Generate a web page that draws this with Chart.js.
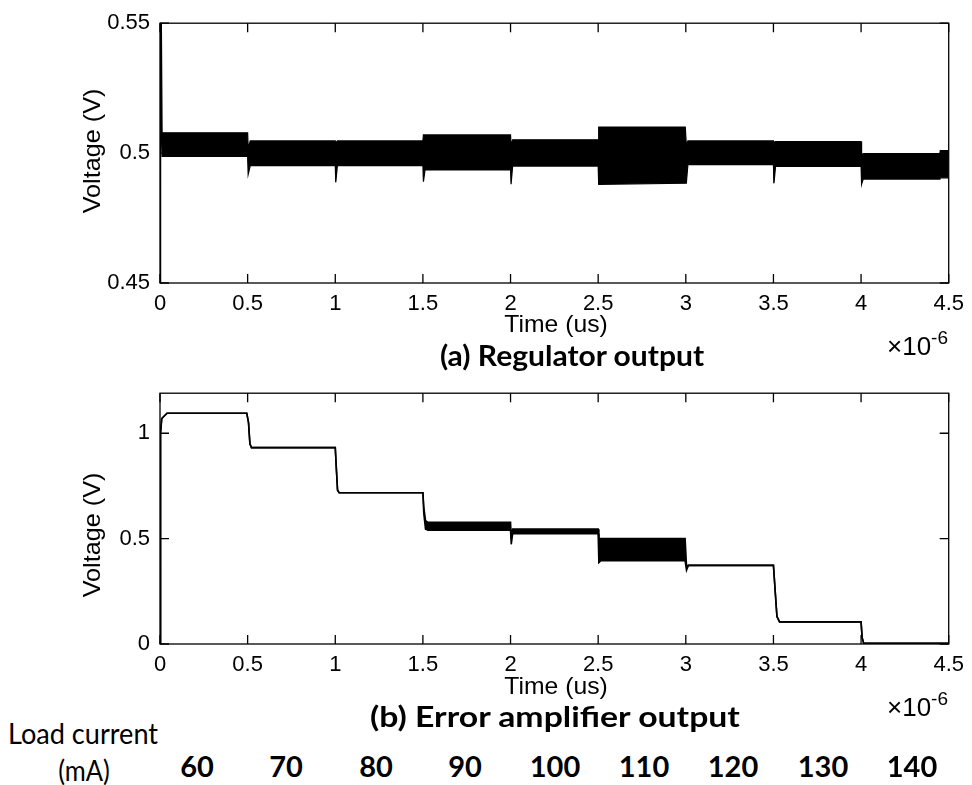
<!DOCTYPE html>
<html><head><meta charset="utf-8">
<script src="https://cdn.jsdelivr.net/npm/chart.js@4.4.0/dist/chart.umd.min.js"></script>
<style>
html,body{margin:0;padding:0;background:#fff;}
#wrap{position:relative;width:972px;height:785px;overflow:hidden;background:#fff;}
canvas{position:absolute;left:0;}
.t{position:absolute;white-space:nowrap;color:#000;line-height:1.2;transform:translate(-50%,-50%);}
.ax{font-family:"Liberation Sans",Arial,sans-serif;font-weight:normal;}
.cal{font-family:Lato,"Open Sans",sans-serif;}
.b{font-weight:bold;}
.sci{position:absolute;white-space:nowrap;font-family:"Liberation Sans",Arial,sans-serif;font-size:26px;line-height:1;color:#000;}
.sci sup{font-size:19px;vertical-align:11px;line-height:1;}
</style></head>
<body><div id="wrap">
<canvas id="c1" width="972" height="370" style="top:0"></canvas>
<canvas id="c2" width="972" height="330" style="top:370px"></canvas>
<div class="sci" style="left:887px;top:328px">&times;10<sup>-6</sup></div>
<div class="sci" style="left:887px;top:689px">&times;10<sup>-6</sup></div>
</div>
<script>
// ---------- data ----------
// (a) Regulator output: oscillation envelope (time in us, volts)
const regTime  = [0, 0.003, 0.012, 0.5, 0.503, 0.515, 1.0, 1.003, 1.012, 1.5, 1.503, 1.512, 2.0, 2.003, 2.012, 2.5, 2.503, 2.997, 3.003, 3.012, 3.5, 3.503, 3.512, 4.0, 4.003, 4.012, 4.45, 4.452, 4.5];
const regUpper = [0.40, 0.60, 0.5078, 0.5078, 0.5020, 0.5047, 0.5047, 0.5030, 0.5047, 0.5047, 0.5070, 0.5070, 0.5070, 0.5030, 0.5051, 0.5051, 0.5100, 0.5100, 0.5030, 0.5047, 0.5047, 0.5030, 0.5044, 0.5044, 0.4990, 0.4998, 0.4998, 0.5010, 0.5010];
const regLower = [0.40, 0.52, 0.4987, 0.4987, 0.4918, 0.4952, 0.4952, 0.4888, 0.4952, 0.4952, 0.4890, 0.4935, 0.4935, 0.4880, 0.4950, 0.4950, 0.4880, 0.4884, 0.4884, 0.4956, 0.4956, 0.4884, 0.4949, 0.4949, 0.4880, 0.4900, 0.4900, 0.4905, 0.4905];
// (b) Error amplifier output envelope
const eaTime  = [0, 0.003, 0.010, 0.040, 0.495, 0.505, 0.513, 0.522, 1.0, 1.005, 1.013, 1.022, 1.5, 1.505, 1.515, 1.530, 2.0, 2.004, 2.012, 2.5, 2.504, 2.515, 2.996, 3.004, 3.015, 3.5, 3.510, 3.520, 3.535, 4.0, 4.006, 4.015, 4.5];
const eaUpper = [0, 1.00, 1.07, 1.095, 1.095, 1.05, 0.95, 0.932, 0.932, 0.85, 0.73, 0.718, 0.718, 0.65, 0.585, 0.577, 0.577, 0.50, 0.545, 0.545, 0.50, 0.50, 0.50, 0.37, 0.373, 0.373, 0.25, 0.13, 0.105, 0.105, 0.03, 0.003, 0.003];
const eaLower = [0, 1.00, 1.07, 1.095, 1.095, 1.05, 0.95, 0.932, 0.932, 0.85, 0.73, 0.718, 0.718, 0.62, 0.545, 0.540, 0.540, 0.473, 0.523, 0.523, 0.386, 0.395, 0.395, 0.35, 0.373, 0.373, 0.25, 0.13, 0.105, 0.105, 0.03, 0.003, 0.003];
// ticks
const xTickValues = [0, 0.5, 1, 1.5, 2, 2.5, 3, 3.5, 4, 4.5];
const xTickLabels = ["0", "0.5", "1", "1.5", "2", "2.5", "3", "3.5", "4", "4.5"];
const regYTicks = [0.45, 0.5, 0.55];
const regYLabels = ["0.45", "0.5", "0.55"];
const eaYTicks = [0, 0.5, 1];
const eaYLabels = ["0", "0.5", "1"];
// load currents shown under the plot
const loadCurrents = ["60", "70", "80", "90", "100", "110", "120", "130", "140"];

// ---------- charts ----------
const boxPlugin = {
  id: 'box',
  afterDatasetsDraw(chart) {
    const {ctx, chartArea: a, scales: {x, y}} = chart;
    const L = 9;
    ctx.save();
    ctx.strokeStyle = '#000';
    ctx.lineWidth = 1.3;
    ctx.strokeRect(a.left, a.top, a.right - a.left, a.bottom - a.top);
    ctx.beginPath();
    x.ticks.forEach(t => {
      const px = x.getPixelForValue(t.value);
      ctx.moveTo(px, a.bottom); ctx.lineTo(px, a.bottom - L);
      ctx.moveTo(px, a.top); ctx.lineTo(px, a.top + L);
    });
    y.ticks.forEach(t => {
      const py = y.getPixelForValue(t.value);
      ctx.moveTo(a.left, py); ctx.lineTo(a.left + L, py);
      ctx.moveTo(a.right, py); ctx.lineTo(a.right - L, py);
    });
    ctx.stroke();
    ctx.restore();
  }
};

function makeChart(id, times, upper, lower, yMin, yMax, yTicks, yLabels, padTop, xHeight, lw) {
  const tickFont = {family: 'Liberation Sans', size: 22};
  return new Chart(document.getElementById(id), {
    type: 'line',
    data: {
      datasets: [
        {data: times.map((t, i) => ({x: t, y: upper[i]})), borderColor: '#000', backgroundColor: '#000', borderWidth: lw, fill: '+1', pointRadius: 0, tension: 0},
        {data: times.map((t, i) => ({x: t, y: lower[i]})), borderColor: '#000', backgroundColor: '#000', borderWidth: lw, fill: false, pointRadius: 0, tension: 0}
      ]
    },
    options: {
      responsive: false, animation: false, devicePixelRatio: 1,
      layout: {padding: {left: 0, right: 21, top: padTop, bottom: 0}},
      plugins: {legend: {display: false}, tooltip: {enabled: false}},
      scales: {
        x: {
          type: 'linear', min: 0, max: 4.5,
          afterBuildTicks: s => { s.ticks = xTickValues.map(v => ({value: v})); },
          afterFit: s => { s.height = xHeight; },
          grid: {display: false, drawTicks: false}, border: {display: false},
          ticks: {font: tickFont, color: '#000', padding: 8, maxRotation: 0, autoSkip: false,
                  callback: (v, i) => xTickLabels[i]}
        },
        y: {
          type: 'linear', min: yMin, max: yMax,
          afterBuildTicks: s => { s.ticks = yTicks.map(v => ({value: v})); },
          afterFit: s => { s.width = 160; },
          grid: {display: false, drawTicks: false}, border: {display: false},
          ticks: {font: tickFont, color: '#000', padding: 10, autoSkip: false,
                  callback: (v, i) => yLabels[i]}
        }
      }
    },
    plugins: [boxPlugin]
  });
}

makeChart('c1', regTime, regUpper, regLower, 0.45, 0.55, regYTicks, regYLabels, 20, 370 - 283, 1.2);
makeChart('c2', eaTime, eaUpper, eaLower, 0, 1.19, eaYTicks, eaYLabels, 13, 330 - 274, 1.6);

// ---------- text ----------
const wrap = document.getElementById('wrap');
// size: font size in px; w: target width (compressed horizontally if given)
function place(txt, cls, cx, cy, size, w, rot) {
  const el = document.createElement('div');
  el.className = 't ' + cls;
  el.textContent = txt;
  el.style.left = cx + 'px';
  el.style.top = cy + 'px';
  el.style.fontSize = size + 'px';
  wrap.appendChild(el);
  let sx = 1;
  if (w) { sx = w / el.offsetWidth; }
  el.style.transform = 'translate(-50%,-50%)' + (rot ? ' rotate(-90deg)' : '') + ' scaleX(' + sx.toFixed(3) + ')';
  return el;
}
place('Voltage (V)', 'ax', 92, 151, 24, 125, true);
place('Voltage (V)', 'ax', 92, 535, 24, 125, true);
place('Time (us)', 'ax', 556, 324, 24, 103);
place('Time (us)', 'ax', 556, 686, 24, 103);
place('(a) Regulator output', 'cal b', 572, 355, 29, 264);
place('(b) Error amplifier output', 'cal b', 555, 716, 29, 370);
place('Load current', 'cal', 83, 734, 28, 150);
place('(mA)', 'cal', 84, 771, 28, 52);
const numX = [197, 286, 376, 465, 555, 644, 733, 823, 912];
loadCurrents.forEach((s, i) => place(s, 'cal b', numX[i], 766, 29, 0));
</script>
</body></html>
